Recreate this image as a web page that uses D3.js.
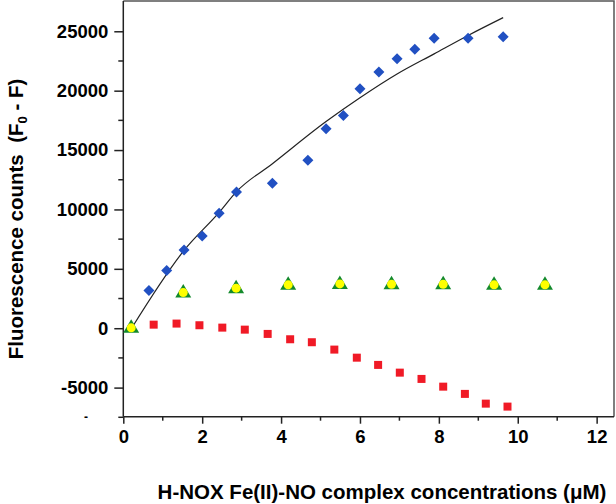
<!DOCTYPE html>
<html>
<head>
<meta charset="utf-8">
<script src="https://cdn.jsdelivr.net/npm/d3@7"></script>
<style>
  html, body { margin: 0; padding: 0; background: #fff; }
  text { font-family: "Liberation Sans", Arial, sans-serif; font-weight: bold; }
</style>
</head>
<body>
<svg id="chart" width="616" height="504"></svg>
<script>
// Blue diamonds (total fluorescence change)
const blueX = [0.65, 1.10, 1.54, 2.00, 2.43, 2.87, 3.78, 4.68, 5.14, 5.58, 6.00, 6.48, 6.94, 7.39, 7.88, 8.74, 9.63];
const blueY = [3170, 4850, 6590, 7770, 9680, 11470, 12200, 14140, 16800, 17900, 20160, 21570, 22690, 23480, 24410, 24410, 24550];
// Fitted curve
const fitX = [0.21, 1.54, 2.43, 2.87, 3.78, 5.14, 6.00, 6.94, 7.88, 8.74, 9.63];
const fitY = [0, 6550, 9750, 11500, 13850, 17400, 19400, 21400, 23100, 24650, 26150];
// Red squares
const redX = [0.77, 1.35, 1.93, 2.51, 3.08, 3.66, 4.23, 4.78, 5.35, 5.92, 6.46, 7.01, 7.56, 8.11, 8.66, 9.19, 9.74];
const redY = [300, 390, 250, 50, -120, -480, -930, -1180, -1800, -2480, -3090, -3740, -4270, -4920, -5530, -6350, -6600];
// Green triangles with yellow circles
const triX = [0.20, 1.52, 2.86, 4.18, 5.49, 6.80, 8.11, 9.40, 10.69];
const triY = [30, 3000, 3370, 3650, 3730, 3700, 3700, 3650, 3650];
// Axis ticks
const xTicks = [0, 2, 4, 6, 8, 10, 12];
const xMinor = [1, 3, 5, 7, 9, 11];
const yTicks = [-5000, 0, 5000, 10000, 15000, 20000, 25000];
const yMinor = [-7500, -2500, 2500, 7500, 12500, 17500, 22500];

(function () {
const svg = d3.select("#chart");
const pL = 123.3, pR = 614, pT = 1, pB = 416.7;
const x = d3.scaleLinear().domain([0, 12.44]).range([pL, pR]);
const y = d3.scaleLinear().domain([-7450, 27550]).range([pB, pT]);
const fmt = d => String(d);

// frame (top/right)
svg.append("path")
  .attr("d", `M${pL},${pT}H${pR}V${pB}`)
  .attr("fill", "none").attr("stroke", "#555").attr("stroke-width", 1.5);

// axes
const xAxis = d3.axisBottom(x).tickValues(xTicks).tickSize(7).tickPadding(6).tickFormat(fmt);
const gx = svg.append("g").attr("transform", `translate(0,${pB})`).call(xAxis);
gx.select(".domain").attr("d", `M${pL},0H${pR}`).attr("stroke", "#222").attr("stroke-width", 1.5);
gx.selectAll(".tick line").attr("stroke", "#222").attr("stroke-width", 1.5);
gx.selectAll(".tick text").attr("font-size", 18.5).attr("fill", "#000")
  .attr("font-family", "Liberation Sans, Arial, sans-serif").attr("font-weight", "bold");
gx.selectAll(".minor").data(xMinor).enter().append("line")
  .attr("x1", d => x(d)).attr("x2", d => x(d)).attr("y1", 0).attr("y2", 4)
  .attr("stroke", "#222").attr("stroke-width", 1.5);

const yAxis = d3.axisLeft(y).tickValues(yTicks).tickSize(9).tickPadding(6).tickFormat(fmt);
const gy = svg.append("g").attr("transform", `translate(${pL},0)`).call(yAxis);
gy.select(".domain").attr("d", `M0,${pB}V${pT}`).attr("stroke", "#222").attr("stroke-width", 1.5);
gy.selectAll(".tick line").attr("stroke", "#222").attr("stroke-width", 1.5);
gy.selectAll(".tick text").attr("font-size", 18.5).attr("fill", "#000")
  .attr("font-family", "Liberation Sans, Arial, sans-serif").attr("font-weight", "bold");
gy.selectAll(".minor").data(yMinor).enter().append("line")
  .attr("x1", -5).attr("x2", 0).attr("y1", d => y(d)).attr("y2", d => y(d))
  .attr("stroke", "#222").attr("stroke-width", 1.5);

svg.append("text").attr("x", 86).attr("y", 421).attr("text-anchor", "middle")
  .attr("font-size", 12).attr("font-weight", "normal").text("-");

// fitted line
svg.append("path")
  .datum(fitX.map((d, i) => [d, fitY[i]]))
  .attr("d", d3.line().curve(d3.curveMonotoneX).x(d => x(d[0])).y(d => y(d[1])))
  .attr("fill", "none").attr("stroke", "#222").attr("stroke-width", 1.2);

// blue diamonds
svg.append("g").selectAll("path").data(blueX.map((d, i) => [d, blueY[i]])).enter().append("path")
  .attr("transform", d => `translate(${x(d[0])},${y(d[1])})`)
  .attr("d", "M0,-5.5L5.5,0L0,5.5L-5.5,0Z")
  .attr("fill", "#2150c2");

// red squares
svg.append("g").selectAll("rect").data(redX.map((d, i) => [d, redY[i]])).enter().append("rect")
  .attr("x", d => x(d[0]) - 4).attr("y", d => y(d[1]) - 4)
  .attr("width", 8).attr("height", 8)
  .attr("fill", "#f01a26");

// triangles with circles
const tg = svg.append("g").selectAll("g").data(triX.map((d, i) => [d, triY[i]])).enter().append("g")
  .attr("transform", d => `translate(${x(d[0])},${y(d[1])})`);
tg.append("path").attr("d", "M0,-8.5L8,5L-8,5Z").attr("fill", "#138a2c");
tg.append("circle").attr("r", 4.5).attr("cy", 0).attr("fill", "#ffff00");

// axis titles
svg.append("text").attr("x", 382).attr("y", 499).attr("text-anchor", "middle")
  .attr("font-size", 20.5).text("H-NOX Fe(II)-NO complex concentrations (\u03bcM)");

const yt = svg.append("text").attr("transform", "translate(23,219) rotate(-90)")
  .attr("text-anchor", "middle").attr("font-size", 20.5).attr("xml:space", "preserve");
yt.append("tspan").text("Fluorescence counts\u00a0\u00a0(F");
yt.append("tspan").attr("font-size", 13).attr("dy", 4).text("0");
yt.append("tspan").attr("dy", -4).text(" - F)");
})();
</script>
</body>
</html>
